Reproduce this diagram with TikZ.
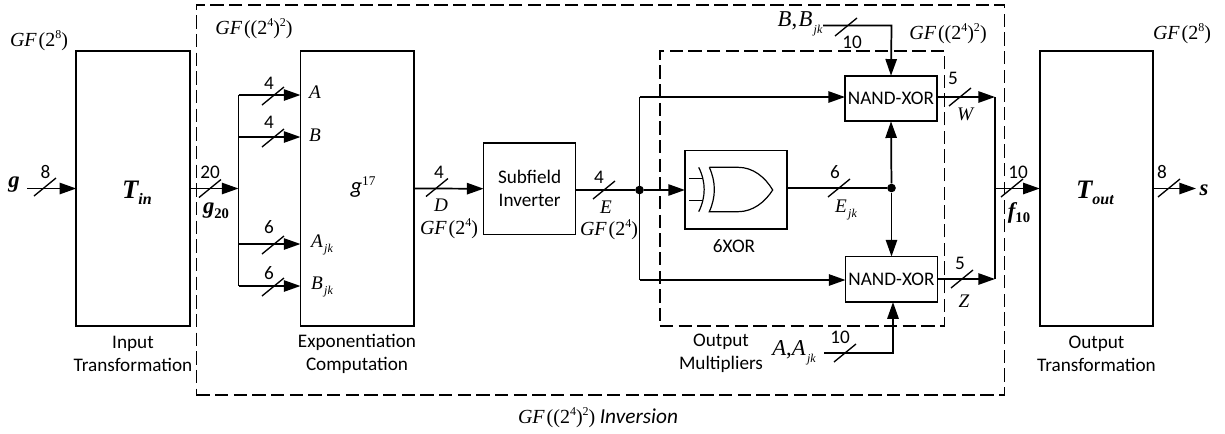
\documentclass[tikz,border=0pt]{standalone}
\usepackage{fontspec}
\usepackage{xcolor}
\usepackage{tikz}
\usetikzlibrary{arrows.meta,positioning,calc}
\setmainfont{Carlito}
\newfontfamily\gfserif{Liberation Serif}
\newcommand{\gfi}[1]{{\gfserif\itshape #1}}
\newcommand{\gfb}[1]{{\gfserif\bfseries\itshape #1}}
\newcommand{\gfsub}[1]{\raisebox{-0.6ex}{\gfserif\itshape\fontsize{9}{9}\selectfont\kern1pt #1}}
\newcommand{\gfsup}[1]{\raisebox{0.85ex}{\gfserif\fontsize{9}{9}\selectfont #1}}
\newcommand{\gfsmall}{\gfi{GF}\kern1.5pt{\gfserif(2\gfsup{8})}}
\newcommand{\gfsmallb}{\gfi{GF}\kern1.5pt{\gfserif(2\gfsup{4})}}
\newcommand{\gfbig}{\gfi{GF}\kern1.5pt{\gfserif((2\gfsup{4})\gfsup{2})}}

\begin{document}
\begin{tikzpicture}[
    x=0.75pt, y=-0.75pt,
    box/.style={rectangle, draw, line width=1.3pt, align=center, inner sep=0pt, outer sep=0pt, font=\fontsize{14.4}{17.2}\selectfont},
    arrow/.style={-{Triangle[length=12.5pt,width=8.5pt]}, line width=1.3pt},
    line/.style={line width=1.3pt},
    frame/.style={line width=1.2pt, dash pattern=on 10pt off 4pt},
    caption/.style={align=center, inner sep=0pt, font=\fontsize{14.4}{17.2}\selectfont},
    width/.style={inner sep=0pt, font=\fontsize{14.4}{16}\selectfont},
    term/.style={inner sep=0pt, font=\fontsize{14.4}{16}\selectfont},
    field/.style={inner sep=0pt, font=\fontsize{15}{16}\selectfont},
    termbig/.style={inner sep=0pt, font=\fontsize{17}{19}\selectfont},
    junction/.style={circle, fill=black, inner sep=0pt, minimum size=6.5pt},
    slashmark/.pic={\draw[line width=1pt] (-11,9) -- (11,-9);}
]
    % blocks
    \node[box, minimum width=85.1pt, minimum height=206.2pt] (tin) at (133,188.5) {};
    \node[box, minimum width=85.1pt, minimum height=206.2pt] (expo) at (357.2,188.5) {};
    \node[box, minimum width=69pt, minimum height=68.6pt] (subf) at (529.6,188.7) {Subfield\\Inverter};
    \node[box, minimum width=76.3pt, minimum height=58.7pt] (xorbox) at (735.8,189.6) {};
    \node[box, minimum width=69pt, minimum height=34.2pt] (nandw) at (891,98.5) {NAND-XOR};
    \node[box, minimum width=69pt, minimum height=34.2pt] (nandz) at (891.5,279.3) {NAND-XOR};
    \node[box, minimum width=85.1pt, minimum height=206.2pt] (tout) at (1096.5,188.5) {};

    % dashed frames
    \node[draw, frame, inner sep=0pt, minimum width=605.9pt, minimum height=292.5pt] (inversion) at (600.4,200) {};
    \node[draw, frame, inner sep=0pt, minimum width=213.5pt, minimum height=206.2pt] (outmul) at (802.3,188.5) {};

    % xor gate
    \draw[line width=0.9pt] (709.3,167.3) -- (738,167.3) .. controls (753,167.3) and (765,177) .. (772.7,190)
        .. controls (765,202) and (753,211.7) .. (738,211.7) -- (709.3,211.7)
        .. controls (716,197) and (716,182) .. (709.3,167.3);
    \draw[line width=0.9pt] (698.7,167.3) .. controls (706,182) and (706,197) .. (698.7,211.7);
    \draw[line width=0.9pt] (689.3,178.3) -- (702.8,178.3);
    \draw[line width=0.9pt] (689.3,200.7) -- (702.8,200.7);

    % junctions and free ends
    \coordinate (gin) at (27,188.5);
    \coordinate (bus) at (238.5,188.5);
    \coordinate (bustop) at (238.5,95);
    \coordinate (busb) at (238.5,137);
    \coordinate (busajk) at (238.5,244);
    \coordinate (busbot) at (238.5,286);
    \node[junction] (esplit) at (639.5,190) {};
    \coordinate (etop) at (639.5,97);
    \coordinate (ebot) at (639.5,280);
    \node[junction] (ejk) at (891.5,188) {};
    \coordinate (bin) at (823,25.5);
    \coordinate (bcorner) at (891.5,25.5);
    \coordinate (ain) at (824,353);
    \coordinate (acorner) at (893,353);
    \coordinate (fbus) at (995,188.5);
    \coordinate (ftop) at (995,97);
    \coordinate (fbot) at (995,279);
    \coordinate (sout) at (1196,188.5);

    % connectors
    \draw[arrow] (gin) -- (tin.west);
    \draw[arrow] (tin.east) -- (bus);
    \draw[line] (bustop) -- (busbot);
    \draw[arrow] (bustop) -- (expo.west|-bustop);
    \draw[arrow] (busb) -- (expo.west|-busb);
    \draw[arrow] (busajk) -- (expo.west|-busajk);
    \draw[arrow] (busbot) -- (expo.west|-busbot);
    \draw[arrow] (expo.east) -- (subf.west);
    \draw[line] (subf.east|-esplit) -- (esplit);
    \draw[arrow] (esplit) -- (xorbox.west|-esplit);
    \draw[line] (etop) -- (ebot);
    \draw[arrow] (etop) -- (nandw.west|-etop);
    \draw[arrow] (ebot) -- (nandz.west|-ebot);
    \draw[line] (xorbox.east|-ejk) -- (ejk);
    \draw[arrow] (ejk) -- (nandw.south);
    \draw[arrow] (ejk) -- (nandz.north);
    \draw[arrow] (bin) -- (bcorner) -- (nandw.north);
    \draw[arrow] (ain) -- (acorner) -- (acorner|-nandz.south);
    \draw[arrow] (nandw.east|-ftop) -- (ftop);
    \draw[arrow] (nandz.east|-fbot) -- (fbot);
    \draw[line] (ftop) -- (fbot);
    \draw[arrow] (fbus) -- (tout.west);
    \draw[arrow] (tout.east) -- (sout);

    % bus slashes
    \pic at (45,187) {slashmark};
    \pic at (210,188.5) {slashmark};
    \pic at (273,96) {slashmark};
    \pic at (273,138) {slashmark};
    \pic at (273,245) {slashmark};
    \pic at (273,287) {slashmark};
    \pic at (437,187.5) {slashmark};
    \pic at (604,190) {slashmark};
    \pic at (839,188) {slashmark};
    \pic at (846,27) {slashmark};
    \pic at (845,353) {slashmark};
    \pic at (960,97) {slashmark};
    \pic at (962,279) {slashmark};
    \pic at (1012,188) {slashmark};
    \pic at (1169,188) {slashmark};

    % bus widths
    \node[width] (w8in) at (45.5,172) {8};
    \node[width] (w20) at (210,172) {20};
    \node[width] (w4a) at (269,83) {4};
    \node[width] (w4b) at (269,122) {4};
    \node[width] (w6a) at (269,227) {6};
    \node[width] (w6b) at (269,273) {6};
    \node[width] (w4d) at (439,172) {4};
    \node[width] (w4e) at (599,177) {4};
    \node[width] (w6e) at (835,172) {6};
    \node[width] (w10b) at (852,42) {10};
    \node[width] (w10a) at (840,337) {10};
    \node[width] (w5w) at (953,78) {5};
    \node[width] (w5z) at (960,263) {5};
    \node[width] (w10f) at (1018,172) {10};
    \node[width] (w8out) at (1162,172) {8};

    % signal names
    \node[termbig] (gname) at (14,185) {\gfb{g}};
    \node[termbig] (gtwenty) at (216,211) {\gfb{g}\raisebox{-0.4ex}{\gfserif\bfseries\fontsize{11}{11}\selectfont 20}};
    \node[term] (aname) at (315,92) {\gfi{A}};
    \node[term] (bname) at (315,135) {\gfi{B}};
    \node[term] (ajkname) at (322,245) {\gfi{A}\gfsub{jk}};
    \node[term] (bjkname) at (322,287) {\gfi{B}\gfsub{jk}};
    \node[termbig] (gpow) at (363,187) {\textit{g}\raisebox{0.7ex}{\gfserif\fontsize{10}{10}\selectfont 17}};
    \node[term] (dname) at (441,205) {\gfi{D}};
    \node[field] (dfield) at (449,229) {\gfsmallb};
    \node[term] (ename) at (606,207) {\gfi{E}};
    \node[field] (efield) at (609,229.5) {\gfsmallb};
    \node[term] (ejkname) at (846,210) {\gfi{E}\gfsub{jk}};
    \node[termbig] (bbname) at (800,24) {\gfi{B}{\gfserif,}\kern1pt\gfi{B}\gfsub{jk}};
    \node[termbig] (aaname) at (794,353) {\gfi{A}{\gfserif,}\gfi{A}\gfsub{jk}};
    \node[term] (wname) at (965,114) {\gfi{W}};
    \node[term] (zname) at (964,301) {\gfi{Z}};
    \node[termbig] (ften) at (1019,213) {\gfb{f}\raisebox{-0.4ex}{\gfserif\bfseries\fontsize{11}{11}\selectfont 10}};
    \node[termbig] (sname) at (1204,190) {\gfb{s}};
    \node[term, font=\fontsize{20}{22}\selectfont] (tinname) at (137,193) {\gfb{T}\raisebox{-0.5ex}{\gfserif\bfseries\itshape\fontsize{12}{12}\selectfont in}};
    \node[term, font=\fontsize{20}{22}\selectfont] (toutname) at (1095,193) {\gfb{T}\raisebox{-0.5ex}{\gfserif\bfseries\itshape\fontsize{12}{12}\selectfont out}};

    % field labels
    \node[field] (gfleft) at (39,41) {\gfsmall};
    \node[field] (gfin) at (254,29) {\gfbig};
    \node[field] (gfmul) at (948,34) {\gfbig};
    \node[field] (gfright) at (1182,34) {\gfsmall};

    % captions
    \node[caption] (capin) at (133,353.5) {Input\\Transformation};
    \node[caption] (capexp) at (357,353.5) {Exponentiation\\Computation};
    \node[caption] (capxor) at (734,246) {6XOR};
    \node[caption] (capmul) at (721,353.5) {Output\\Multipliers};
    \node[caption] (capout) at (1096.5,353.5) {Output\\Transformation};
    \node[caption, font=\fontsize{15}{16}\selectfont] (capinv) at (598,418) {\gfbig\ {\fontsize{16}{16}\selectfont\textit{Inversion}}};

    \useasboundingbox (0,0) rectangle (1225,433);
\end{tikzpicture}
\end{document}
